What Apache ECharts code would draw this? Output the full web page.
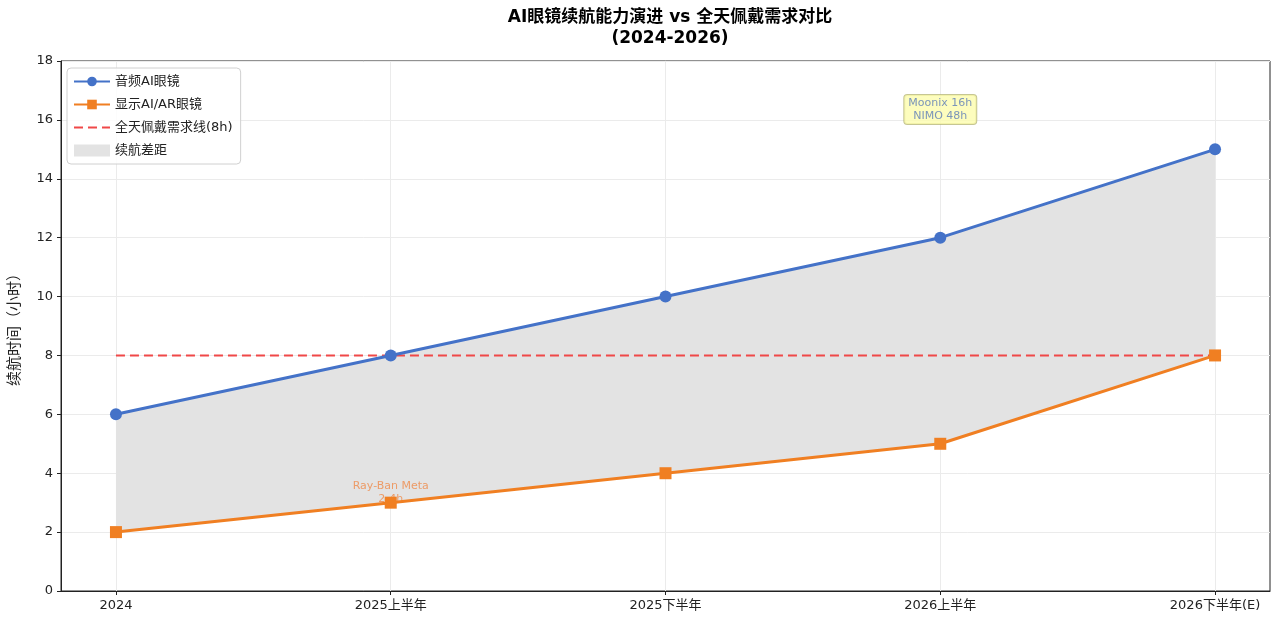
<!DOCTYPE html>
<html>
<head>
<meta charset="utf-8">
<script src="https://cdn.jsdelivr.net/npm/echarts@6/dist/echarts.min.js"></script>
<style>
html, body { margin: 0; padding: 0; background: #fff; }
#main { width: 1278px; height: 624px; }
</style>
</head>
<body>
<div id="main"></div>
<script>
// 数据
var categories = ['2024', '2025上半年', '2025下半年', '2026上半年', '2026下半年(E)'];
var audioGlasses = [6, 8, 10, 12, 15];       // 音频AI眼镜
var displayGlasses = [2, 3, 4, 5, 8];        // 显示AI/AR眼镜
var fullDayNeed = [8, 8, 8, 8, 8];           // 全天佩戴需求线
var noteTop = { x: 3, y: 16.35, text: 'Moonix 16h\nNIMO 48h' };
var noteBottom = { x: 1, y: 3.35, text: 'Ray-Ban Meta\n2-4h' };

var FONT = 'DejaVu Sans, "Noto Sans CJK SC", sans-serif';

function pts(arr) {
    return arr.map(function (v, i) { return [i, v]; });
}

var myChart = echarts.init(document.getElementById('main'));
var option = {
    backgroundColor: '#fff',
    animation: false,
    title: {
        text: 'AI眼镜续航能力演进 vs 全天佩戴需求对比\n(2024-2026)',
        left: 665,
        textAlign: 'center',
        top: 2,
        textStyle: { fontFamily: FONT, fontSize: 17, fontWeight: 'bold', color: '#000', lineHeight: 21 }
    },
    grid: {
        left: 60, right: 8, top: 61, bottom: 33,
        show: true, borderColor: '#222', borderWidth: 1
    },
    legend: {
        orient: 'vertical',
        left: 67, top: 68,
        data: [
            { name: '音频AI眼镜' },
            { name: '显示AI/AR眼镜' },
            { name: '全天佩戴需求线(8h)', itemStyle: { opacity: 0 } },
            { name: '续航差距', icon: 'rect' }
        ],
        itemWidth: 36, itemHeight: 12, itemGap: 10,
        padding: [7, 8, 7, 6],
        borderColor: '#d0d0d0', borderWidth: 1, borderRadius: 4,
        backgroundColor: 'rgba(255,255,255,0.85)',
        textStyle: { fontFamily: FONT, fontSize: 13, color: '#222' }
    },
    xAxis: {
        type: 'value',
        min: -0.2, max: 4.2,
        axisLine: { show: true, onZero: false, lineStyle: { color: '#222' } },
        axisTick: { show: true, length: 4, customValues: [0, 1, 2, 3, 4], lineStyle: { color: '#222' } },
        axisLabel: {
            customValues: [0, 1, 2, 3, 4],
            formatter: function (v) { return categories[Math.round(v)]; },
            fontFamily: FONT, fontSize: 13, color: '#222', margin: 8
        },
        splitLine: { show: true, lineStyle: { color: '#ebebeb', width: 1 } }
    },
    yAxis: {
        type: 'value',
        min: 0, max: 18, interval: 2,
        name: '续航时间（小时）',
        nameLocation: 'middle',
        nameGap: 38,
        nameTextStyle: { fontFamily: FONT, fontSize: 15, color: '#222' },
        axisLine: { show: true, onZero: false, lineStyle: { color: '#222' } },
        axisTick: { show: true, length: 4, lineStyle: { color: '#222' } },
        axisLabel: { fontFamily: FONT, fontSize: 13, color: '#222', margin: 8 },
        splitLine: { show: true, lineStyle: { color: '#ebebeb', width: 1 } }
    },
    series: [
        {
            name: '续航差距',
            type: 'custom',
            data: [0],
            silent: true,
            z: 1,
            itemStyle: { color: '#e3e3e3' },
            renderItem: function (params, api) {
                var poly = [];
                audioGlasses.forEach(function (v, i) { poly.push(api.coord([i, v])); });
                for (var i = displayGlasses.length - 1; i >= 0; i--) {
                    poly.push(api.coord([i, displayGlasses[i]]));
                }
                return {
                    type: 'polygon',
                    shape: { points: poly },
                    style: { fill: '#e3e3e3' }
                };
            }
        },
        {
            name: '全天佩戴需求线(8h)',
            type: 'line',
            data: pts(fullDayNeed),
            symbol: 'none',
            itemStyle: { color: '#f04848' },
            lineStyle: { color: '#f04848', width: 2, type: [9, 5] },
            z: 3
        },
        {
            name: '音频AI眼镜',
            type: 'line',
            data: pts(audioGlasses),
            symbol: 'circle',
            symbolSize: 12,
            itemStyle: { color: '#4472c8' },
            lineStyle: { color: '#4472c8', width: 3 },
            z: 4
        },
        {
            name: '显示AI/AR眼镜',
            type: 'line',
            data: pts(displayGlasses),
            symbol: 'rect',
            symbolSize: 12,
            itemStyle: { color: '#f07f22' },
            lineStyle: { color: '#f07f22', width: 3 },
            z: 4
        },
        {
            type: 'scatter',
            data: [[noteTop.x, noteTop.y]],
            symbolSize: 0,
            silent: true,
            z: 6,
            label: {
                show: true,
                position: 'inside',
                formatter: noteTop.text,
                fontFamily: FONT, fontSize: 11, lineHeight: 13,
                color: '#5a7ab8',
                backgroundColor: '#fdfdae',
                borderColor: '#b8b878', borderWidth: 1, borderRadius: 3,
                padding: [2, 4, 1, 4]
            }
        },
        {
            type: 'scatter',
            data: [[noteBottom.x, noteBottom.y]],
            symbolSize: 0,
            silent: true,
            z: 2,
            label: {
                show: true,
                position: 'inside',
                formatter: noteBottom.text,
                fontFamily: FONT, fontSize: 11, lineHeight: 13,
                color: '#ef8a48'
            }
        }
    ]
};
myChart.setOption(option);
window.addEventListener('resize', function () {
    myChart.resize();
});
</script>
</body>
</html>
